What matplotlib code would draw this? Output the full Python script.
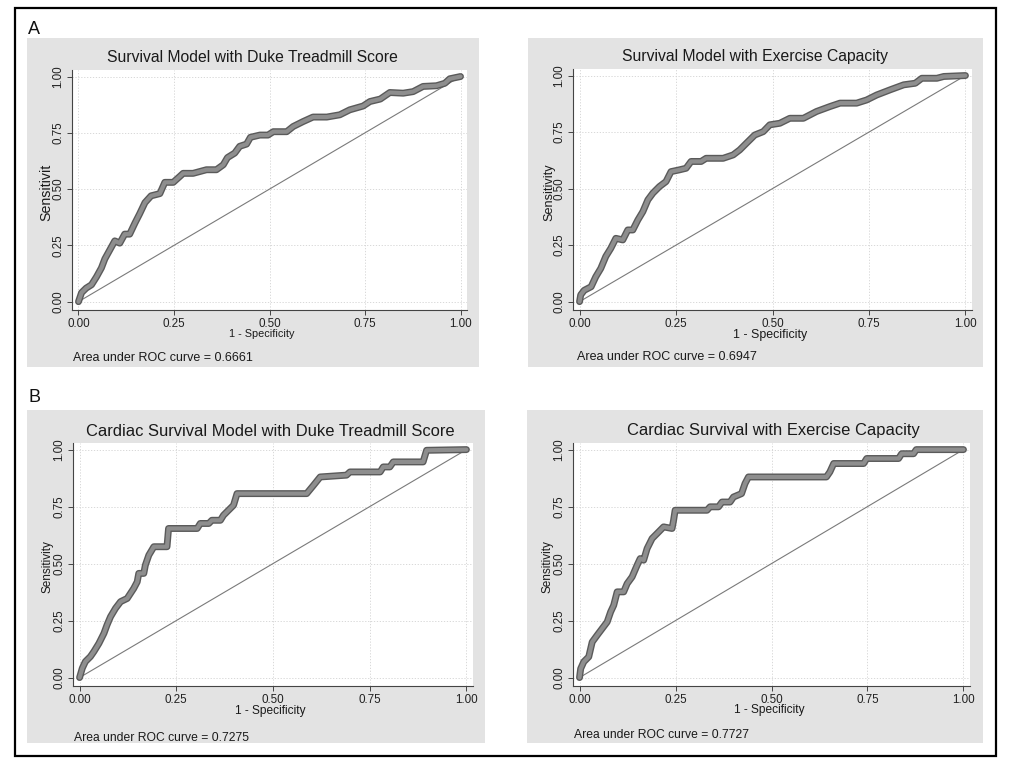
import matplotlib
matplotlib.use("Agg")
import matplotlib.pyplot as plt
from matplotlib.patches import Rectangle
import matplotlib.patheffects as pe

plt.rcParams['font.family'] = ['Liberation Sans', 'DejaVu Sans']

W, H = 1013, 767

# ---------------- data ----------------
titles = ["Survival Model with Duke Treadmill Score",
          "Survival Model with Exercise Capacity",
          "Cardiac Survival Model with Duke Treadmill Score",
          "Cardiac Survival with Exercise Capacity"]
ylabels = ["Sensitivit", "Sensitivity", "Sensitivity", "Sensitivity"]
xlabel = "1 - Specificity"
auc_values = ["0.6661", "0.6947", "0.7275", "0.7727"]
ticks = [0.0, 0.25, 0.5, 0.75, 1.0]
tick_labels = ["0.00", "0.25", "0.50", "0.75", "1.00"]
panel_letters = ["A", "B"]

fpr_a1 = [0, 0.008, 0.02, 0.034, 0.047, 0.06, 0.069, 0.082, 0.095, 0.108, 0.121, 0.134,
          0.148, 0.16, 0.174, 0.19, 0.213, 0.226, 0.248, 0.265, 0.274, 0.30, 0.335, 0.361,
          0.379, 0.39, 0.409, 0.422, 0.44, 0.45, 0.475, 0.496, 0.51, 0.545, 0.562, 0.588,
          0.614, 0.65, 0.684, 0.71, 0.745, 0.763, 0.79, 0.815, 0.85, 0.876, 0.902, 0.937,
          0.959, 0.972, 1.0]
tpr_a1 = [0, 0.04, 0.06, 0.075, 0.11, 0.15, 0.19, 0.23, 0.27, 0.26, 0.30, 0.30,
          0.35, 0.39, 0.44, 0.47, 0.48, 0.53, 0.53, 0.556, 0.57, 0.57, 0.586, 0.586,
          0.608, 0.64, 0.66, 0.69, 0.70, 0.73, 0.74, 0.74, 0.755, 0.755, 0.778, 0.80,
          0.82, 0.82, 0.83, 0.852, 0.869, 0.889, 0.90, 0.929, 0.926, 0.933, 0.956, 0.959,
          0.97, 0.99, 1.0]

fpr_a2 = [0, 0.003, 0.012, 0.03, 0.042, 0.055, 0.068, 0.081, 0.094, 0.112, 0.125, 0.138,
          0.151, 0.164, 0.177, 0.19, 0.207, 0.224, 0.237, 0.259, 0.276, 0.289, 0.315, 0.328,
          0.372, 0.398, 0.415, 0.432, 0.454, 0.476, 0.493, 0.519, 0.545, 0.58, 0.614, 0.649,
          0.675, 0.718, 0.744, 0.77, 0.805, 0.84, 0.87, 0.887, 0.926, 0.944, 1.0]
tpr_a2 = [0, 0.03, 0.05, 0.066, 0.11, 0.147, 0.20, 0.236, 0.28, 0.273, 0.317, 0.317,
          0.361, 0.398, 0.45, 0.48, 0.509, 0.531, 0.575, 0.583, 0.59, 0.62, 0.62, 0.634,
          0.634, 0.649, 0.671, 0.70, 0.737, 0.752, 0.782, 0.789, 0.811, 0.811, 0.841, 0.863,
          0.878, 0.878, 0.892, 0.914, 0.937, 0.959, 0.966, 0.988, 0.988, 0.996, 1.0]

fpr_b1 = [0, 0.007, 0.015, 0.028, 0.037, 0.05, 0.063, 0.071, 0.08, 0.093, 0.106, 0.123,
          0.14, 0.149, 0.153, 0.166, 0.17, 0.179, 0.192, 0.226, 0.23, 0.304, 0.312, 0.334,
          0.342, 0.364, 0.372, 0.385, 0.398, 0.407, 0.587, 0.605, 0.622, 0.69, 0.699, 0.777,
          0.785, 0.802, 0.811, 0.888, 0.897, 1.0]
tpr_b1 = [0, 0.041, 0.07, 0.092, 0.114, 0.15, 0.194, 0.231, 0.267, 0.304, 0.333, 0.347,
          0.391, 0.42, 0.457, 0.457, 0.493, 0.537, 0.574, 0.574, 0.654, 0.654, 0.676, 0.676,
          0.69, 0.69, 0.712, 0.734, 0.756, 0.807, 0.807, 0.844, 0.88, 0.888, 0.902, 0.902,
          0.924, 0.924, 0.946, 0.946, 0.997, 1.0]

fpr_b2 = [0, 0.003, 0.011, 0.024, 0.033, 0.046, 0.059, 0.072, 0.081, 0.089, 0.098, 0.115,
          0.124, 0.137, 0.15, 0.158, 0.167, 0.176, 0.189, 0.202, 0.219, 0.241, 0.245, 0.249,
          0.332, 0.34, 0.362, 0.371, 0.392, 0.401, 0.422, 0.431, 0.44, 0.643, 0.652, 0.662,
          0.74, 0.748, 0.831, 0.839, 0.87, 0.877, 1.0]
tpr_b2 = [0, 0.039, 0.069, 0.091, 0.156, 0.186, 0.215, 0.244, 0.288, 0.317, 0.376, 0.376,
          0.412, 0.442, 0.493, 0.522, 0.515, 0.566, 0.61, 0.632, 0.661, 0.654, 0.69, 0.734,
          0.734, 0.749, 0.749, 0.77, 0.77, 0.792, 0.807, 0.851, 0.88, 0.88, 0.902, 0.939,
          0.939, 0.961, 0.961, 0.982, 0.982, 1.0, 1.0]

curves = [(fpr_a1, tpr_a1), (fpr_a2, tpr_a2), (fpr_b1, tpr_b1), (fpr_b2, tpr_b2)]

# ---------------- layout (pixels) ----------------
gray_boxes = [(27, 38, 479, 367), (528, 38, 983, 367), (27, 410, 485, 743), (527, 410, 983, 743)]
axes_boxes = [(72, 70, 467, 310), (573, 69, 972, 310), (73, 443, 473, 686), (573, 443, 970, 686)]
title_pos = [(252, 58), (755, 57), (270, 432), (773, 431)]
title_size = [11.3, 11.3, 11.9, 11.9]
xlabel_pos = [(262, 334), (770, 335), (270, 711), (769, 710)]
xlabel_size = [7.8, 8.9, 8.6, 8.6]
ylabel_pos = [(46, 192), (549, 192), (47, 567), (547, 567)]
ylabel_size = [10.2, 9.1, 8.5, 8.5]
auc_pos = [(73, 358), (577, 357), (74, 738), (574, 735)]
auc_size = [9.0, 9.0, 8.7, 8.7]
letter_pos = [(28, 29), (28, 397)]

BG = '#e3e3e3'

fig = plt.figure(figsize=(W / 100, H / 100), dpi=100)
fig.patch.set_facecolor('white')


def fx(px):
    return px / W


def fy(py):
    return 1 - py / H


# outer frame
fig.patches.append(Rectangle((fx(15), fy(756)), fx(996) - fx(15), fy(8) - fy(756),
                             transform=fig.transFigure, fill=False, edgecolor='black',
                             linewidth=1.6, zorder=-2))
for (x0, y0, x1, y1) in gray_boxes:
    fig.patches.append(Rectangle((fx(x0), fy(y1)), fx(x1) - fx(x0), fy(y0) - fy(y1),
                                 transform=fig.transFigure, facecolor=BG,
                                 edgecolor='none', zorder=-1))

for i in range(4):
    x0, y0, x1, y1 = axes_boxes[i]
    ax = fig.add_axes([fx(x0), fy(y1), fx(x1) - fx(x0), fy(y0) - fy(y1)])
    ax.set_zorder(1)
    ax.set_facecolor('white')
    fpr, tpr = curves[i]
    ax.plot([0, 1], [0, 1], color='#7a7a7a', lw=0.8, zorder=2)
    ax.plot(fpr, tpr, color='#8e8e8e', lw=3.0, solid_joinstyle='round',
            solid_capstyle='round', zorder=3,
            path_effects=[pe.Stroke(linewidth=5.0, foreground='#5a5a5a'), pe.Normal()])
    ax.set_xlim(-0.017, 1.017)
    ax.set_ylim(-0.037, 1.029)
    ax.set_xticks(ticks)
    ax.set_xticklabels(tick_labels)
    ax.set_yticks(ticks)
    ax.set_yticklabels(tick_labels, rotation=90, va='center')
    ax.grid(True, color='#d2d2d2', lw=0.6, ls=(0, (1.5, 2)))
    ax.set_axisbelow(True)
    for s in ['top', 'right']:
        ax.spines[s].set_visible(False)
    for s in ['left', 'bottom']:
        ax.spines[s].set_color('#444444')
        ax.spines[s].set_linewidth(0.8)
    ax.tick_params(direction='out', length=3.5, width=0.7, color='#444444',
                   labelsize=8.4, labelcolor='#222222', pad=2)
    fig.text(fx(title_pos[i][0]), fy(title_pos[i][1]), titles[i], ha='center', va='center',
             fontsize=title_size[i], color='#1a1a1a')
    fig.text(fx(xlabel_pos[i][0]), fy(xlabel_pos[i][1]), xlabel, ha='center', va='center',
             fontsize=xlabel_size[i], color='#1a1a1a')
    fig.text(fx(ylabel_pos[i][0]), fy(ylabel_pos[i][1]), ylabels[i], ha='center', va='center',
             rotation=90, fontsize=ylabel_size[i], color='#1a1a1a')
    fig.text(fx(auc_pos[i][0]), fy(auc_pos[i][1]), "Area under ROC curve = " + auc_values[i],
             ha='left', va='center', fontsize=auc_size[i], color='#1a1a1a')

for j, letter in enumerate(panel_letters):
    fig.text(fx(letter_pos[j][0]), fy(letter_pos[j][1]), letter, ha='left', va='center',
             fontsize=13, color='#111111')

fig.savefig('out.png', dpi=100)
